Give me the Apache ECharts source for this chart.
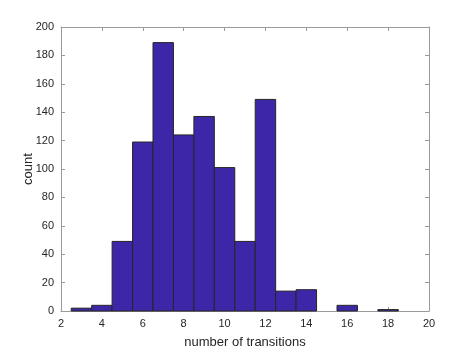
<!DOCTYPE html>
<html>
<head>
<meta charset="utf-8">
<script src="https://cdn.jsdelivr.net/npm/echarts@6/dist/echarts.min.js"></script>
<style>
  html, body { margin: 0; padding: 0; background: #fff; }
  #chart { width: 474px; height: 354px; }
</style>
</head>
<body>
<div id="chart"></div>
<script>
// histogram bins (integer centers, width 1)
const binCenters = [3, 4, 5, 6, 7, 8, 9, 10, 11, 12, 13, 14, 15, 16, 17, 18];
const counts = [2, 4, 49, 119, 189, 124, 137, 101, 49, 149, 14, 15, 0, 4, 0, 1];
const binWidth = 1;

const xTicks = [2, 4, 6, 8, 10, 12, 14, 16, 18, 20];
const yTicks = [0, 20, 40, 60, 80, 100, 120, 140, 160, 180, 200];

const barColor = "#3e26a8";
const edgeColor = "#262626";
const axisColor = "#9a9a9a";
const labelColor = "#262626";
const font = "Liberation Sans, Arial, Helvetica, sans-serif";

const data = binCenters.map((c, i) => [c - binWidth / 2, c + binWidth / 2, counts[i]]);

const chart = echarts.init(document.getElementById("chart"));

const baseX = {
  type: "value",
  min: xTicks[0],
  max: xTicks[xTicks.length - 1],
  interval: 2,
  axisLine: { show: true, onZero: false, lineStyle: { color: axisColor, width: 1 } },
  axisTick: { show: true, inside: true, length: 4, lineStyle: { color: axisColor } },
  splitLine: { show: false },
};
const baseY = {
  type: "value",
  min: yTicks[0],
  max: yTicks[yTicks.length - 1],
  interval: 20,
  axisLine: { show: true, onZero: false, lineStyle: { color: axisColor, width: 1 } },
  axisTick: { show: true, inside: true, length: 4, lineStyle: { color: axisColor } },
  splitLine: { show: false },
};

const option = {
  animation: false,
  grid: { left: 61, right: 45, top: 27, bottom: 39, containLabel: false },
  xAxis: [
    Object.assign({}, baseX, {
      position: "bottom",
      name: "number of transitions",
      nameLocation: "middle",
      nameGap: 25,
      nameMoveOverlap: false,
      nameTextStyle: { color: labelColor, fontSize: 13, fontFamily: font },
      axisLabel: { color: labelColor, fontSize: 11, fontFamily: font, margin: 7 },
    }),
    Object.assign({}, baseX, { position: "top", axisLabel: { show: false } }),
  ],
  yAxis: [
    Object.assign({}, baseY, {
      position: "left",
      name: "count",
      nameLocation: "middle",
      nameGap: 26,
      nameMoveOverlap: false,
      nameTextStyle: { color: labelColor, fontSize: 13, fontFamily: font },
      axisLabel: { color: labelColor, fontSize: 11, fontFamily: font, margin: 7 },
    }),
    Object.assign({}, baseY, { position: "right", axisLabel: { show: false } }),
  ],
  series: [
    {
      type: "custom",
      xAxisIndex: 0,
      yAxisIndex: 0,
      data: data,
      encode: { x: [0, 1], y: 2 },
      renderItem: function (params, api) {
        if (!api.value(2)) return null;
        const p0 = api.coord([api.value(0), api.value(2)]);
        const p1 = api.coord([api.value(1), 0]);
        return {
          type: "rect",
          shape: { x: p0[0], y: p0[1], width: p1[0] - p0[0], height: p1[1] - p0[1] },
          style: { fill: barColor, stroke: edgeColor, lineWidth: 1 },
        };
      },
    },
  ],
};

chart.setOption(option);
</script>
</body>
</html>
